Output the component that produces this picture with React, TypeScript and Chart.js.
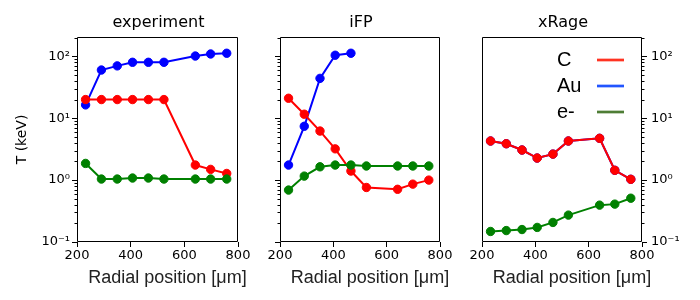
import React, { useEffect, useRef } from 'react';
import { Chart, registerables } from 'chart.js';

Chart.register(...registerables);

// ---- data ----
const radialPositions = [232, 291, 350, 407, 466, 524, 641, 698, 758];
const xTicks = [200, 400, 600, 800];
const yMajorTicks = [0.1, 1, 10, 100];
const yTickLabels = ['10⁻¹', '10⁰', '10¹', '10²'];
const panelTitles = ['experiment', 'iFP', 'xRage'];
const seriesNames = ['C', 'Au', 'e-'];

const experimentC = [20, 20, 20, 20, 20, 20, 1.75, 1.49, 1.28];
const experimentAu = [16.4, 60, 70, 80, 80, 80, 101, 109, 112];
const experimentE = [1.86, 1.04, 1.04, 1.08, 1.08, 1.04, 1.04, 1.04, 1.04];

const ifpC = [21, 11.6, 6.2, 3.2, 1.4, 0.76, 0.71, 0.86, 1.0];
const ifpAu = [1.75, 7.4, 44, 104, 112];
const ifpE = [0.69, 1.16, 1.64, 1.75, 1.75, 1.69, 1.69, 1.69, 1.69];

const xrageC = [4.28, 3.87, 3.06, 2.27, 2.63, 4.28, 4.73, 1.44, 1.03];
const xrageAu = [4.28, 3.87, 3.06, 2.27, 2.63, 4.28, 4.73, 1.44, 1.03];
const xrageE = [0.148, 0.153, 0.159, 0.172, 0.207, 0.272, 0.394, 0.409, 0.51];

const Y_MIN = 0.1;
const Y_MAX = 205;

const COLORS: Record<string, string> = { C: '#ff0000', Au: '#0000ff', 'e-': '#008000' };
const LEGEND_COLORS: Record<string, string> = { C: '#ff3322', Au: '#2255ff', 'e-': '#4e7d35' };

type PanelSpec = {
  title: string;
  c: number[];
  au: number[];
  e: number[];
  left: number;
  right: number;
  yLabels: boolean;
  yTicks: boolean;
  yRight: boolean;
  yAxisLabel: boolean;
  legend: boolean;
};

const TOP = 37;
const BOTTOM = 242;
const W = 700;
const H = 300;

const panels: PanelSpec[] = [
  { title: panelTitles[0], c: experimentC, au: experimentAu, e: experimentE, left: 77, right: 238, yLabels: true, yTicks: true, yRight: false, yAxisLabel: true, legend: false },
  { title: panelTitles[1], c: ifpC, au: ifpAu, e: ifpE, left: 280, right: 440, yLabels: false, yTicks: true, yRight: false, yAxisLabel: false, legend: false },
  { title: panelTitles[2], c: xrageC, au: xrageAu, e: xrageE, left: 482, right: 642, yLabels: true, yTicks: true, yRight: true, yAxisLabel: false, legend: true },
];

const toXY = (vals: number[]) => vals.map((v, i) => ({ x: radialPositions[i], y: v }));

function dataset(name: string, vals: number[], order: number) {
  const col = COLORS[name];
  return {
    label: name,
    data: toXY(vals),
    borderColor: col,
    backgroundColor: col,
    borderWidth: 2,
    pointRadius: 4.2,
    pointBorderWidth: 1,
    pointBackgroundColor: col,
    pointBorderColor: col,
    tension: 0,
    order,
  };
}

function decorPlugin(spec: PanelSpec) {
  return {
    id: 'decor',
    afterDraw(chart: any) {
      const { ctx, chartArea: a } = chart;
      const ys = chart.scales.y;
      ctx.save();
      // frame
      ctx.strokeStyle = '#000';
      ctx.lineWidth = 1;
      const l = Math.round(a.left) + 0.5;
      const r = Math.round(a.right) - 0.5;
      const t = Math.round(a.top) + 0.5;
      const b = Math.round(a.bottom) - 0.5;
      ctx.beginPath();
      ctx.rect(l, t, r - l, b - t);
      ctx.stroke();
      // minor y ticks
      if (spec.yTicks) {
        ctx.beginPath();
        for (const d of yMajorTicks) {
          for (let m = 2; m <= 9; m++) {
            const v = m * d;
            if (v > Y_MAX) continue;
            const py = Math.round(ys.getPixelForValue(v)) + 0.5;
            if (spec.yRight) {
              ctx.moveTo(r, py);
              ctx.lineTo(r + 3, py);
            } else {
              ctx.moveTo(l, py);
              ctx.lineTo(l - 3, py);
            }
          }
        }
        ctx.stroke();
      }
      // title
      ctx.fillStyle = '#000';
      ctx.textAlign = 'center';
      ctx.textBaseline = 'middle';
      ctx.font = '16px "DejaVu Sans"';
      const cx = (a.left + a.right) / 2;
      ctx.fillText(spec.title, cx + 1, 23);
      // x label
      ctx.fillStyle = '#222';
      ctx.font = '18px "Liberation Sans"';
      ctx.fillText('Radial position [μm]', cx + 10, 278);
      // y label
      if (spec.yAxisLabel) {
        ctx.save();
        ctx.translate(22, (a.top + a.bottom) / 2);
        ctx.rotate(-Math.PI / 2);
        ctx.fillStyle = '#000';
        ctx.font = '14px "DejaVu Sans"';
        ctx.fillText('T (keV)', 0, 0);
        ctx.restore();
      }
      // legend
      if (spec.legend) {
        ctx.font = '20px "Liberation Sans"';
        ctx.textAlign = 'left';
        const rows = [60, 86, 112];
        seriesNames.forEach((n, i) => {
          ctx.fillStyle = '#000';
          ctx.fillText(n, 557, rows[i]);
          ctx.strokeStyle = LEGEND_COLORS[n];
          ctx.lineWidth = 2.7;
          ctx.beginPath();
          ctx.moveTo(597, rows[i]);
          ctx.lineTo(624, rows[i]);
          ctx.stroke();
        });
      }
      ctx.restore();
    },
  };
}

function makeConfig(spec: PanelSpec): any {
  const yW = spec.yLabels ? 40 : 10;
  const xH = 20;
  const padding = spec.yRight
    ? { left: spec.left, right: W - spec.right - yW, top: TOP, bottom: H - BOTTOM - xH }
    : { left: spec.left - yW, right: W - spec.right, top: TOP, bottom: H - BOTTOM - xH };
  const tickFont = { family: 'DejaVu Sans', size: 13 };
  return {
    type: 'line',
    data: {
      datasets: [dataset('e-', spec.e, 0), dataset('C', spec.c, 1), dataset('Au', spec.au, 2)],
    },
    options: {
      animation: false,
      responsive: false,
      maintainAspectRatio: false,
      events: [],
      layout: { padding },
      plugins: { legend: { display: false }, tooltip: { enabled: false }, title: { display: false } },
      scales: {
        x: {
          type: 'linear',
          position: 'bottom',
          min: 200,
          max: 800,
          afterBuildTicks: (s: any) => {
            s.ticks = xTicks.map((v) => ({ value: v }));
          },
          afterFit: (s: any) => {
            s.height = xH;
          },
          ticks: { font: tickFont, color: '#000', padding: 1, maxRotation: 0, autoSkip: false },
          grid: { drawOnChartArea: false, drawTicks: true, tickLength: 5, color: '#000' },
          border: { display: false },
        },
        y: {
          type: 'logarithmic',
          position: spec.yRight ? 'right' : 'left',
          min: Y_MIN,
          max: Y_MAX,
          afterBuildTicks: (s: any) => {
            s.ticks = yMajorTicks.map((v) => ({ value: v, major: true }));
          },
          afterFit: (s: any) => {
            s.width = yW;
          },
          ticks: {
            display: spec.yLabels,
            font: tickFont,
            color: '#000',
            padding: spec.yRight ? 4 : 2,
            callback: (v: number) => yTickLabels[Math.round(Math.log10(v)) + 1] ?? '',
          },
          grid: { display: spec.yTicks, drawOnChartArea: false, drawTicks: true, tickLength: 5, color: '#000' },
          border: { display: false },
        },
      },
    },
    plugins: [decorPlugin(spec)],
  };
}

function Panel({ spec }: { spec: PanelSpec }) {
  const ref = useRef<HTMLCanvasElement | null>(null);
  useEffect(() => {
    if (!ref.current) return;
    const chart = new Chart(ref.current, makeConfig(spec));
    return () => chart.destroy();
  }, [spec]);
  return (
    <canvas
      ref={ref}
      width={W}
      height={H}
      style={{ position: 'absolute', left: 0, top: 0, width: W, height: H }}
    />
  );
}

export default function App() {
  return (
    <div style={{ position: 'absolute', left: 0, top: 0, width: W, height: H, background: '#fff' }}>
      {panels.map((p) => (
        <Panel key={p.title} spec={p} />
      ))}
    </div>
  );
}
